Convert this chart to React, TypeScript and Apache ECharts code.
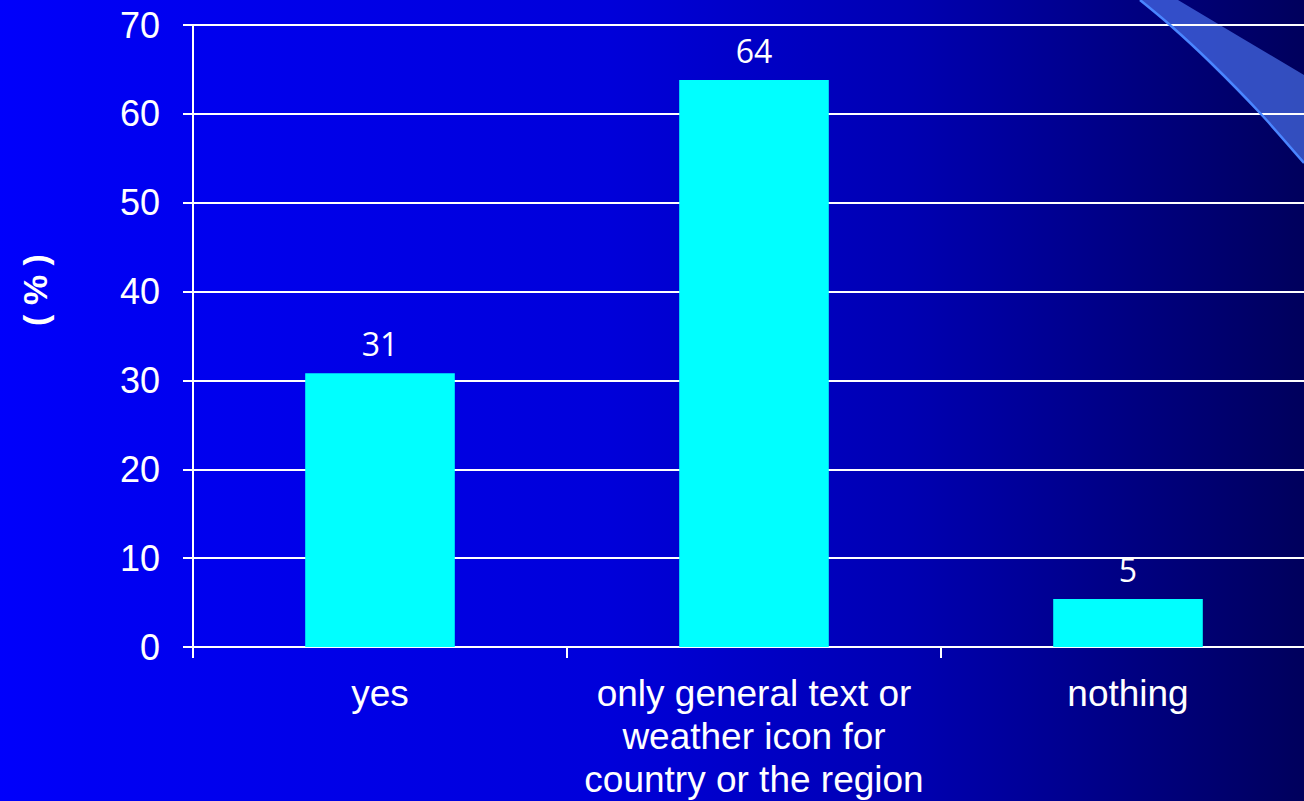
import React, { useEffect, useRef } from "react";
import * as echarts from "echarts";

const categories = [
  "yes",
  "only general text or\nweather icon for\ncountry or the region",
  "nothing",
];
const values = [30.8, 63.8, 5.4];
const yTicks = { min: 0, max: 70, interval: 10 };
const yName = "( % )";

export default function App() {
  const ref = useRef<HTMLDivElement>(null);
  useEffect(() => {
    if (!ref.current) return;
    const chart = echarts.init(ref.current, null, { renderer: "svg" });
    chart.setOption({
      animation: false,
      backgroundColor: new echarts.graphic.LinearGradient(0, 0, 1, 0, [
        { offset: 0, color: "#0000fc" },
        { offset: 0.07, color: "#0000f4" },
        { offset: 0.46, color: "#0000da" },
        { offset: 0.69, color: "#0000b2" },
        { offset: 1, color: "#00005a" },
      ]),
      graphic: [
        {
          type: "polygon",
          shape: {
            points: [
              [1140, 0],
              [1178, 0],
              [1240, 37],
              [1304, 75],
              [1304, 163],
              [1260, 113],
              [1210, 62],
              [1170, 25],
            ],
          },
          style: { fill: "rgba(85,130,255,0.6)" },
          z: 0,
        },
        {
          type: "polyline",
          shape: {
            points: [
              [1140, 0],
              [1170, 25],
              [1210, 62],
              [1260, 113],
              [1304, 163],
            ],
            smooth: 0.3,
          },
          style: { stroke: "#4a85ff", lineWidth: 2.5, fill: "none" },
          z: 1,
        },
        {
          type: "text",
          x: 35,
          y: 290,
          rotation: Math.PI / 2,
          style: {
            text: yName,
            fill: "#ffffff",
            fontSize: 34,
            fontWeight: "bold",
            fontFamily: "Liberation Sans, Arial, sans-serif",
            align: "center",
            verticalAlign: "middle",
          },
        },
      ],
      grid: { left: 193, right: 0, top: 25, bottom: 152, containLabel: false },
      xAxis: {
        type: "category",
        data: categories,
        axisLine: { show: true, lineStyle: { color: "#ffffff", width: 2 } },
        axisTick: { show: true, length: 11, lineStyle: { color: "#ffffff", width: 2 } },
        axisLabel: {
          color: "#ffffff",
          fontSize: 37,
          fontFamily: "Liberation Sans, Arial, sans-serif",
          lineHeight: 43,
          margin: 25,
          interval: 0,
        },
      },
      yAxis: {
        type: "value",
        min: yTicks.min,
        max: yTicks.max,
        interval: yTicks.interval,
        axisLine: { show: true, lineStyle: { color: "#ffffff", width: 2 } },
        axisTick: { show: true, length: 10, lineStyle: { color: "#ffffff", width: 2 } },
        axisLabel: {
          color: "#ffffff",
          fontSize: 36,
          fontFamily: "Liberation Sans, Arial, sans-serif",
          margin: 33,
        },
        splitLine: { show: true, lineStyle: { color: "#ffffff", width: 2 } },
      },
      series: [
        {
          type: "bar",
          data: values,
          barWidth: "40%",
          itemStyle: { color: "#00ffff" },
          z: 3,
          label: {
            show: true,
            position: "top",
            distance: 14,
            color: "#ffffff",
            fontSize: 32,
            fontFamily: "Open Sans, sans-serif",
            formatter: (p: any) => String(Math.round(p.value)),
          },
        },
      ],
    });
    return () => chart.dispose();
  }, []);
  return (
    <div
      style={{
        position: "absolute",
        left: 0,
        top: 0,
        width: 1304,
        height: 801,
        overflow: "hidden",
      }}
    >
      <div ref={ref} style={{ width: 1315, height: 801 }} />
    </div>
  );
}
